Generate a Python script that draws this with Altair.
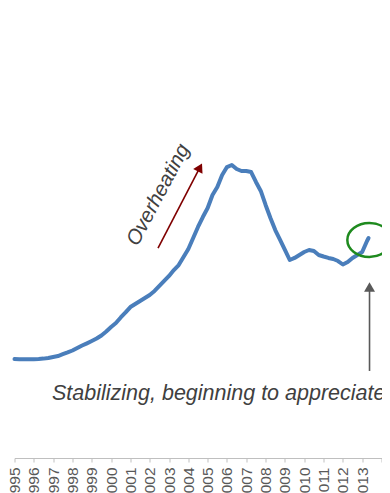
import altair as alt
import pandas as pd

# Quarterly house-price index, 1995Q1 .. 2013Q2, plus last reading
years = [1995 + 0.25 * i for i in range(74)] + [2013.33]
index_values = [
    77.0, 76.8, 76.8, 76.8,
    76.8, 77.0, 77.3, 77.8,
    78.6, 79.3, 80.7, 82.1,
    83.6, 85.6, 87.5, 89.2,
    91.0, 92.9, 95.3, 98.4,
    101.9, 105.0, 109.3, 113.2,
    117.4, 119.8, 122.1, 124.4,
    126.8, 129.9, 133.8, 137.7,
    141.6, 146.2, 150.1, 156.3,
    162.6, 171.1, 179.7, 187.4,
    194.4, 204.6, 210.8, 220.1,
    226.3, 227.9, 224.8, 223.2,
    223.2, 222.4, 214.7, 207.7,
    196.8, 186.7, 177.3, 169.6,
    161.8, 154.0, 155.6, 157.9,
    160.2, 161.8, 161.0, 157.9,
    156.7, 155.6, 154.8, 153.2,
    150.5, 152.4, 155.6, 157.9,
    160.2, 168.8, 171.1,
]
tick_years = list(range(1995, 2015))

# Annotation anchors (in data units)
red_arrow = {"x": [2002.43], "y": [163.3], "x2": [2004.6], "y2": [226.0]}
gray_arrow = {"x": [2013.38], "y": [67.7], "x2": [2013.38], "y2": [133.0]}
circle_pos = {"x": [2013.37], "y": [169.6]}
overheat_label = {"x": [2002.45], "y": [204.6], "t": ["Overheating"]}
stab_label = {"x": [1996.94], "y": [45.2], "t": ["Stabilizing, beginning to appreciate"]}

df = pd.DataFrame({"year": years, "index": index_values})

xscale = alt.Scale(domain=[1995, 2014], nice=False, zero=False)
yscale = alt.Scale(domain=[0, 350], nice=False, zero=False)

x_axis = alt.Axis(
    values=tick_years,
    grid=False,
    domainColor="#BFBFBF",
    tickColor="#BFBFBF",
    tickSize=4,
    labelColor="#595959",
    labelFont="Liberation Sans",
    labelFontSize=15.5,
    labelAngle=270,
    labelAlign="right",
    labelBaseline="middle",
    labelPadding=5,
    labelFlush=False,
    labelOverlap=False,
    labelExpr="datum.value == 2014 ? '' : toString(datum.value)",
)


def ax(field):
    return alt.X(field, scale=xscale, axis=x_axis, title=None)


def ay(field):
    return alt.Y(field, scale=yscale, axis=None)


line = alt.Chart(df).mark_line(
    color="#4A7EBB", strokeWidth=4, strokeCap="round", strokeJoin="round"
).encode(x=ax("year:Q"), y=ay("index:Q"))

rdf = pd.DataFrame(red_arrow)
red_shaft = alt.Chart(rdf).mark_rule(color="#7F0000", strokeWidth=1.6).encode(
    x=ax("x:Q"), y=ay("y:Q"), x2="x2:Q", y2="y2:Q")
red_head = alt.Chart(rdf).mark_point(shape="triangle-up", filled=True, color="#7F0000", opacity=1,
                                     size=110, angle=27.4).encode(x=ax("x2:Q"), y=ay("y2:Q"))

gdf = pd.DataFrame(gray_arrow)
gray_shaft = alt.Chart(gdf).mark_rule(color="#595959", strokeWidth=1.6).encode(
    x=ax("x:Q"), y=ay("y:Q"), y2="y2:Q")
gray_head = alt.Chart(gdf).mark_point(shape="triangle-up", filled=True, color="#595959", opacity=1,
                                      size=120).encode(x=ax("x2:Q"), y=ay("y2:Q"))

ellipse_path = ("M-1,0 C-1,-0.425 -0.552,-0.77 0,-0.77 C0.552,-0.77 1,-0.425 1,0 "
                "C1,0.425 0.552,0.77 0,0.77 C-0.552,0.77 -1,0.425 -1,0 Z")
ring = alt.Chart(pd.DataFrame(circle_pos)).mark_point(
    shape=ellipse_path, filled=False, stroke="#1E8A1E", strokeWidth=2.5, opacity=1, size=1936
).encode(x=ax("x:Q"), y=ay("y:Q"))

overheat = alt.Chart(pd.DataFrame(overheat_label)).mark_text(
    font="Liberation Sans", fontStyle="italic", fontSize=20.5, color="#404040",
    angle=298, align="center", baseline="middle"
).encode(x=ax("x:Q"), y=ay("y:Q"), text="t:N")

stab = alt.Chart(pd.DataFrame(stab_label)).mark_text(
    font="Liberation Sans", fontStyle="italic", fontSize=21.5, color="#404040",
    align="left", baseline="alphabetic"
).encode(x=ax("x:Q"), y=ay("y:Q"), text="t:N")

chart = alt.layer(line, red_shaft, red_head, gray_shaft, gray_head, ring, overheat, stab).properties(
    width=367, height=450,
    autosize=alt.AutoSizeParams(type="none"),
    padding={"left": 6.5, "top": 0, "right": 0.5, "bottom": 35},
    background="white",
).configure_view(strokeWidth=0)

chart.save("out.html", embed_options={"renderer": "svg", "actions": False})
